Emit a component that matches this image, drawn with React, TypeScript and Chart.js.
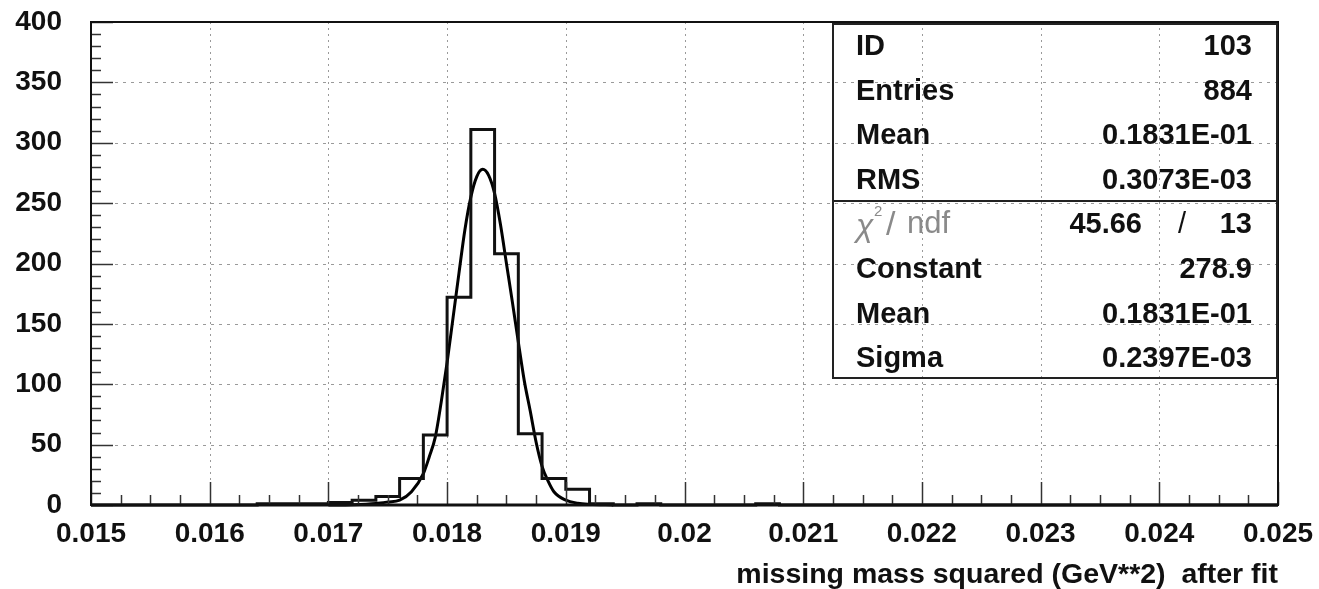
import React, { useEffect, useRef } from 'react';
import { Chart, registerables } from 'chart.js';

Chart.register(...registerables);

// ---- data ----
const X_MIN = 0.015;
const X_MAX = 0.025;
const BIN_WIDTH = 0.0002;

// 50 bins of width 0.0002 from 0.015 to 0.025
const binCounts = [
  0, 0, 0, 0, 0, 0, 0, 1, 1, 1, // 0.0150 - 0.0170
  2, 4, 7, 22, 58, 172, 311, 208, 59, 22, // 0.0170 - 0.0190
  13, 1, 0, 1, 0, 0, 0, 0, 1, 0, // 0.0190 - 0.0210
  0, 0, 0, 0, 0, 0, 0, 0, 0, 0, // 0.0210 - 0.0230
  0, 0, 0, 0, 0, 0, 0, 0, 0, 0, // 0.0230 - 0.0250
];

// Gaussian fit curve
const fitX = [
  0.0170, 0.0172, 0.0174, 0.0175, 0.0176, 0.0177, 0.0178, 0.01785, 0.0179, 0.01795,
  0.0180, 0.01805, 0.0181, 0.01815, 0.0182, 0.01825, 0.0183, 0.01835, 0.0184, 0.01845,
  0.0185, 0.01855, 0.0186, 0.01865, 0.0187, 0.01875, 0.0188, 0.01885, 0.0189, 0.0190,
  0.0191, 0.0192, 0.0194,
];
const fitY = [
  0, 0.3, 1.3, 2.5, 4, 11, 26, 40, 56, 85,
  118, 155, 192, 228, 255, 272, 278, 273, 258, 232,
  200, 168, 135, 103, 78, 52, 32, 20, 11, 4,
  1.5, 0.6, 0,
];

const xTickValues = [0.015, 0.016, 0.017, 0.018, 0.019, 0.02, 0.021, 0.022, 0.023, 0.024, 0.025];
const xTickLabels = ['0.015', '0.016', '0.017', '0.018', '0.019', '0.02', '0.021', '0.022', '0.023', '0.024', '0.025'];
const yTickValues = [0, 50, 100, 150, 200, 250, 300, 350, 400];
const yTickLabels = ['0', '50', '100', '150', '200', '250', '300', '350', '400'];

const xTitle = 'missing mass squared (GeV**2)  after fit';

const statsLabels = ['ID', 'Entries', 'Mean', 'RMS'];
const statsValues = ['103', '884', '0.1831E-01', '0.3073E-03'];
const chi2Value = '45.66';
const ndfValue = '13';
const fitLabels = ['Constant', 'Mean', 'Sigma'];
const fitValues = ['278.9', '0.1831E-01', '0.2397E-03'];

// ---- styles ----
const FONT = '"Liberation Sans", Arial, Helvetica, sans-serif';

export default function App() {
  const canvasRef = useRef<HTMLCanvasElement | null>(null);

  useEffect(() => {
    const canvas = canvasRef.current;
    if (!canvas) return;

    const histPts = binCounts.map((c, i) => ({ x: X_MIN + i * BIN_WIDTH, y: c }));
    histPts.push({ x: X_MAX, y: binCounts[binCounts.length - 1] });
    const fitPts = fitX.map((x, i) => ({ x, y: fitY[i] }));

    const line = (ctx: CanvasRenderingContext2D, x1: number, y1: number, x2: number, y2: number) => {
      ctx.beginPath();
      ctx.moveTo(x1, y1);
      ctx.lineTo(x2, y2);
      ctx.stroke();
    };

    const framePlugin = {
      id: 'pawFrame',
      beforeDatasetsDraw(chart: any) {
        const { ctx, chartArea, scales } = chart;
        const { left, right, top, bottom } = chartArea;
        const xs = scales.x;
        const ys = scales.y;
        ctx.save();
        ctx.strokeStyle = '#9a9a9a';
        ctx.lineWidth = 1;
        ctx.setLineDash([2, 4]);
        for (const v of xTickValues) {
          const px = Math.round(xs.getPixelForValue(v)) + 0.5;
          line(ctx, px, top, px, bottom);
        }
        ctx.setLineDash([3, 5]);
        for (const v of yTickValues) {
          const py = Math.round(ys.getPixelForValue(v)) + 0.5;
          line(ctx, left, py, right, py);
        }
        ctx.restore();
      },
      afterDatasetsDraw(chart: any) {
        const { ctx, chartArea, scales } = chart;
        const { left, right, top, bottom } = chartArea;
        const xs = scales.x;
        const ys = scales.y;
        ctx.save();
        ctx.strokeStyle = '#333';
        ctx.lineWidth = 1.5;
        // x ticks (inside, bottom)
        for (let k = 0; k <= 40; k++) {
          const v = X_MIN + k * 0.00025;
          const px = Math.round(xs.getPixelForValue(v)) + 0.5;
          const len = k % 4 === 0 ? 23 : 10;
          line(ctx, px, bottom, px, bottom - len);
        }
        // y ticks (inside, left)
        for (let k = 0; k <= 40; k++) {
          const v = k * 10;
          const py = Math.round(ys.getPixelForValue(v)) + 0.5;
          const len = k % 5 === 0 ? 22 : 10;
          line(ctx, left, py, left + len, py);
        }
        // frame
        ctx.strokeStyle = '#111';
        ctx.lineWidth = 2;
        ctx.strokeRect(left, top, right - left, bottom - top);
        ctx.lineWidth = 3;
        line(ctx, left, bottom, right, bottom);
        ctx.restore();
      },
      afterDraw(chart: any) {
        const { ctx, chartArea } = chart;
        const boxL = 833;
        const boxR = chartArea.right - 1;
        const boxT = 24;
        const boxB = 378;
        const divY = 201;
        const textL = 856;
        const textR = 1252;
        const rowH = 44.6;
        const base0 = 55;
        ctx.save();
        ctx.strokeStyle = '#222';
        ctx.lineWidth = 2;
        ctx.strokeRect(boxL, boxT, boxR - boxL, boxB - boxT);
        line(ctx, boxL, divY, boxR, divY);

        ctx.fillStyle = '#111';
        ctx.font = `bold 29px ${FONT}`;
        ctx.textBaseline = 'alphabetic';
        statsLabels.forEach((lab, i) => {
          const y = base0 + i * rowH;
          ctx.textAlign = 'left';
          ctx.fillText(lab, textL, y);
          ctx.textAlign = 'right';
          ctx.fillText(statsValues[i], textR, y);
        });
        // chi2 row
        const yc = base0 + 4 * rowH;
        ctx.textAlign = 'right';
        ctx.fillText(chi2Value, 1142, yc);
        ctx.fillText(ndfValue, textR, yc);
        ctx.textAlign = 'center';
        ctx.font = `29px ${FONT}`;
        ctx.fillText('/', 1182, yc);
        // χ² / ndf in light gray
        ctx.fillStyle = '#8a8a8a';
        ctx.textAlign = 'left';
        ctx.font = `italic 32px ${FONT}`;
        ctx.fillText('\u03C7', textL, yc + 3);
        ctx.font = `15px ${FONT}`;
        ctx.fillText('2', 874, yc - 17);
        ctx.font = `300 34px ${FONT}`;
        ctx.fillText('/', 886, yc + 2);
        ctx.font = `31px ${FONT}`;
        ctx.fillText('ndf', 907, yc);

        ctx.fillStyle = '#111';
        ctx.font = `bold 29px ${FONT}`;
        fitLabels.forEach((lab, i) => {
          const y = base0 + (5 + i) * rowH;
          ctx.textAlign = 'left';
          ctx.fillText(lab, textL, y);
          ctx.textAlign = 'right';
          ctx.fillText(fitValues[i], textR, y);
        });
        ctx.restore();
      },
    };

    const chart = new Chart(canvas, {
      type: 'line',
      data: {
        datasets: [
          {
            label: 'hist',
            data: histPts,
            stepped: 'before',
            borderColor: '#111',
            borderWidth: 3,
            pointRadius: 0,
            fill: false,
            clip: 4,
          } as any,
          {
            label: 'fit',
            data: fitPts,
            borderColor: '#000',
            borderWidth: 3,
            pointRadius: 0,
            fill: false,
            cubicInterpolationMode: 'monotone',
            clip: 4,
          } as any,
        ],
      },
      options: {
        animation: false,
        responsive: false,
        maintainAspectRatio: false,
        events: [],
        layout: { padding: { top: 22, right: 41, left: 0, bottom: 0 } },
        plugins: {
          legend: { display: false },
          tooltip: { enabled: false },
        },
        scales: {
          x: {
            type: 'linear',
            min: X_MIN,
            max: X_MAX,
            afterBuildTicks: (s: any) => {
              s.ticks = xTickValues.map((v) => ({ value: v }));
            },
            afterFit: (s: any) => {
              s.height = 84;
            },
            ticks: {
              callback: (_v: any, i: number) => xTickLabels[i],
              autoSkip: false,
              maxRotation: 0,
              minRotation: 0,
              padding: 0,
              color: '#111',
              font: { family: FONT, size: 28, weight: 'bold' },
            },
            grid: { display: false, drawTicks: true, tickLength: 12, tickColor: 'rgba(0,0,0,0)' },
            border: { display: false },
            title: {
              display: true,
              text: xTitle,
              align: 'end',
              color: '#111',
              padding: 0,
              font: { family: FONT, size: 28.5, weight: 'bold', lineHeight: 1 },
            },
          },
          y: {
            type: 'linear',
            min: 0,
            max: 400,
            afterBuildTicks: (s: any) => {
              s.ticks = yTickValues.map((v) => ({ value: v }));
            },
            afterFit: (s: any) => {
              s.width = 91;
            },
            ticks: {
              callback: (_v: any, i: number) => yTickLabels[i],
              autoSkip: false,
              padding: 0,
              color: '#111',
              font: { family: FONT, size: 28, weight: 'bold' },
            },
            grid: { display: false, drawTicks: true, tickLength: 29, tickColor: 'rgba(0,0,0,0)' },
            border: { display: false },
          },
        },
      } as any,
      plugins: [framePlugin],
    });

    return () => {
      chart.destroy();
    };
  }, []);

  return (
    <div style={{ position: 'absolute', left: 0, top: 0, width: 1319, height: 589, background: '#fff' }}>
      <canvas ref={canvasRef} width={1319} height={589} style={{ display: 'block' }} />
    </div>
  );
}
